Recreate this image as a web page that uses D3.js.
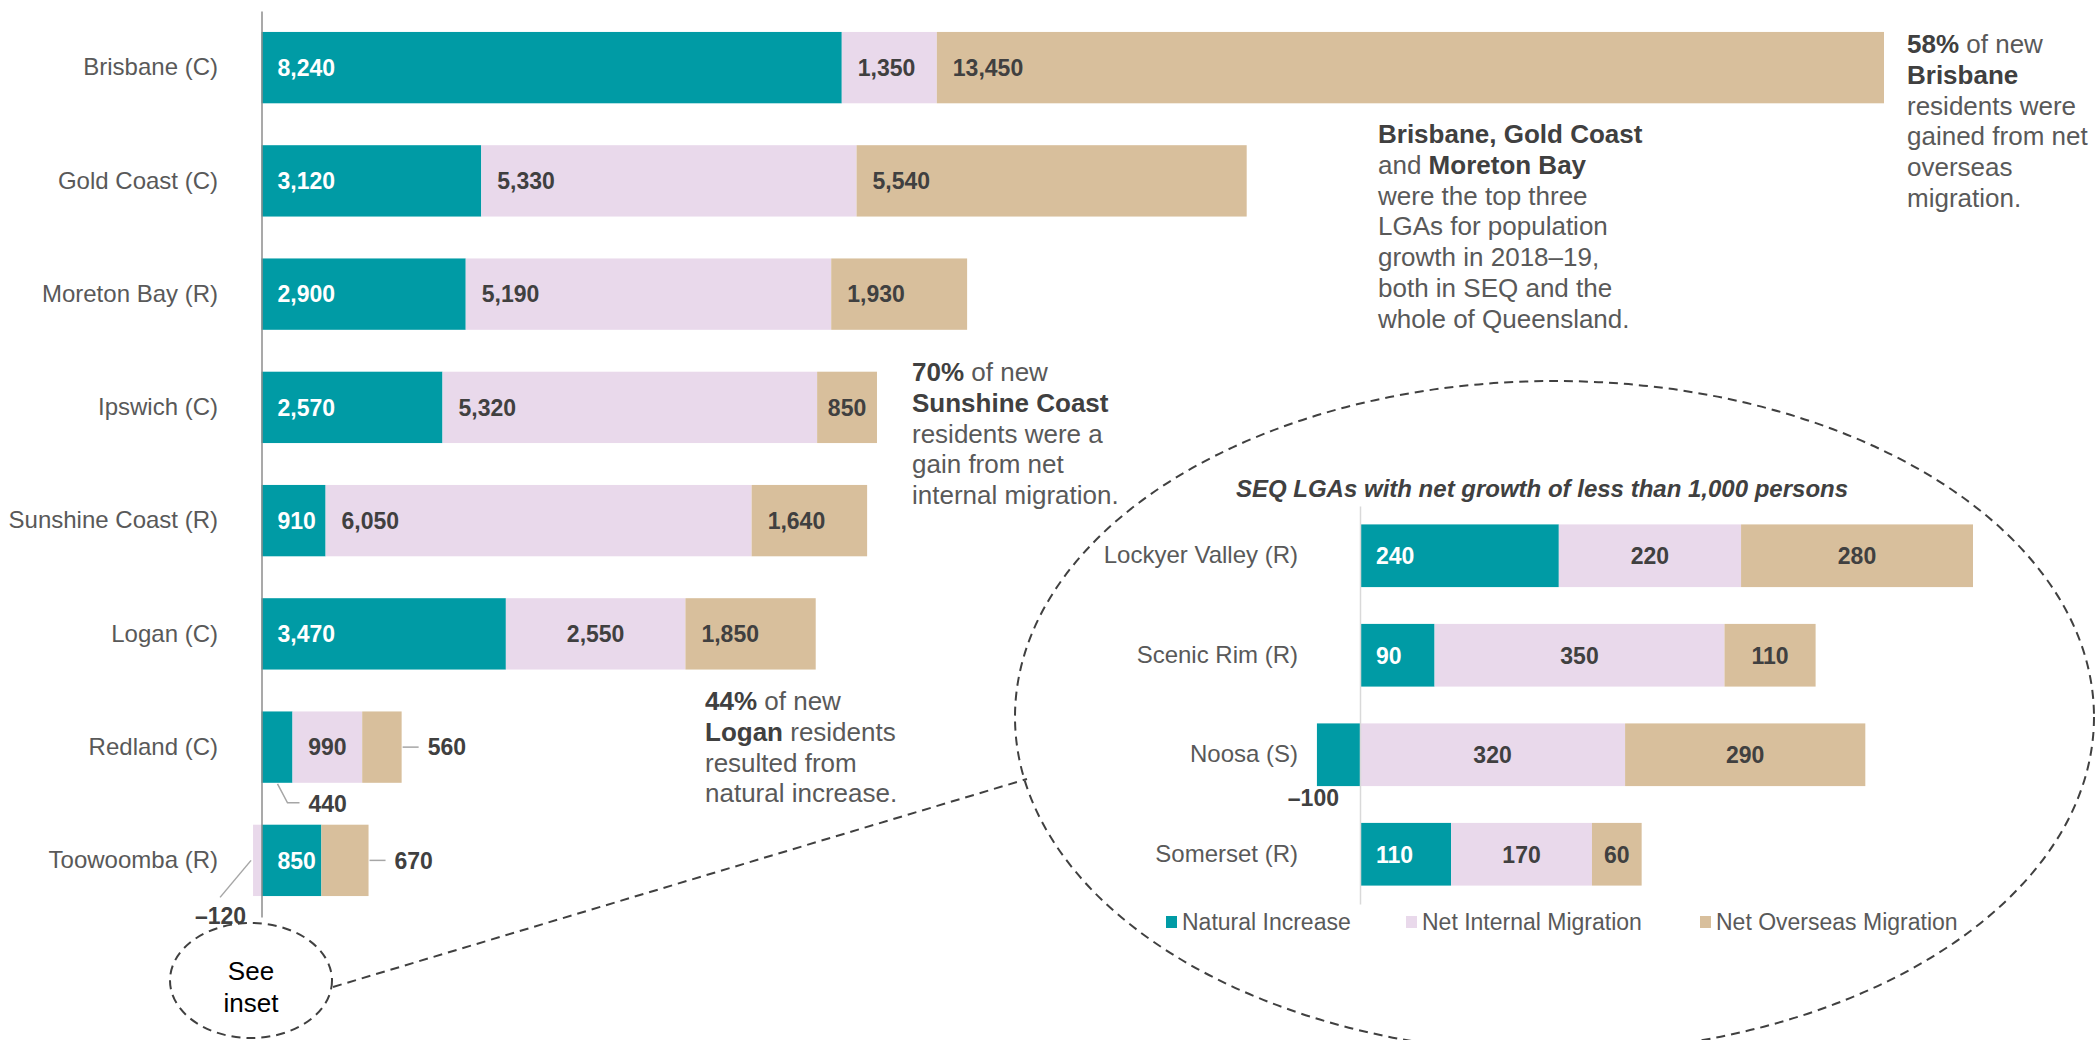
<!DOCTYPE html>
<html>
<head>
<meta charset="utf-8">
<script src="https://cdn.jsdelivr.net/npm/d3@7"></script>
<style>
  body { margin: 0; background: #fff; }
  text { font-family: "Liberation Sans", Arial, sans-serif; }
</style>
</head>
<body>
<svg id="chart"></svg>
<script>
var w = 2098;
var h = 1040;

// main chart data (persons, 2018-19)
var lgaNames = ["Brisbane (C)", "Gold Coast (C)", "Moreton Bay (R)", "Ipswich (C)",
                "Sunshine Coast (R)", "Logan (C)", "Redland (C)", "Toowoomba (R)"];
var naturalIncrease = [8240, 3120, 2900, 2570, 910, 3470, 440, 850];
var netInternal = [1350, 5330, 5190, 5320, 6050, 2550, 990, -120];
var netOverseas = [13450, 5540, 1930, 850, 1640, 1850, 560, 670];

// inset: LGAs with net growth under 1,000
var insetNames = ["Lockyer Valley (R)", "Scenic Rim (R)", "Noosa (S)", "Somerset (R)"];
var insetNatural = [240, 90, -52, 110];
var insetInternal = [220, 350, 320, 170];
var insetOverseas = [280, 110, 290, 60];
var insetNaturalLabels = ["240", "90", "\u2013100", "110"];

var seriesKeys = ["natural", "internal", "overseas"];
var seriesNames = ["Natural Increase", "Net Internal Migration", "Net Overseas Migration"];
var colors = ["#009ba5", "#e9d9eb", "#d8bf9c"];

var fmt = function(v){ return d3.format(",")(v).replace("\u2212", "\u2013"); };

var svg = d3.select("#chart").attr("width", w).attr("height", h);

function rows(names, a, b, c){
  return names.map(function(n, i){
    return {name: n, natural: a[i], internal: b[i], overseas: c[i]};
  });
}

var mainData = rows(lgaNames, naturalIncrease, netInternal, netOverseas);
var insetData = rows(insetNames, insetNatural, insetInternal, insetOverseas);

var stack = d3.stack().keys(seriesKeys).offset(d3.stackOffsetDiverging);
var mainStack = stack(mainData);
var insetStack = stack(insetData);

// ---------- main chart ----------
var xMain = d3.scaleLinear()
  .domain([0, d3.max(mainData, function(d){ return d.natural + d.internal + d.overseas; })])
  .range([261.5, 1884]);

var yMain = d3.scaleBand()
  .domain(lgaNames)
  .range([11, 917])
  .paddingInner(0.37)
  .paddingOuter(0.185);

var gMain = svg.append("g");

gMain.selectAll("g.series")
  .data(mainStack)
  .enter()
  .append("g")
  .attr("class", "series")
  .attr("fill", function(d, i){ return colors[i]; })
  .selectAll("rect")
  .data(function(d){ return d; })
  .enter()
  .append("rect")
  .attr("x", function(d){ return xMain(d[0]); })
  .attr("width", function(d){ return xMain(d[1]) - xMain(d[0]); })
  .attr("y", function(d){ return yMain(d.data.name); })
  .attr("height", yMain.bandwidth());

var centred = ["Logan (C)|1", "Ipswich (C)|2", "Redland (C)|1"];

mainStack.forEach(function(s, si){
  s.forEach(function(d){
    var x0 = xMain(d[0]), x1 = xMain(d[1]);
    var top = yMain(d.data.name);
    var mid = top + yMain.bandwidth() / 2;
    var bottom = top + yMain.bandwidth();
    var v = d.data[seriesKeys[si]];
    var label = fmt(v);
    var fill = si === 0 ? "#ffffff" : "#404040";
    var lineCol = "#a6a6a6";

    if (x1 - x0 < 50) {
      if (v < 0) {
        gMain.append("line")
          .attr("x1", x0 - 2).attr("y1", mid)
          .attr("x2", x0 - 33).attr("y2", mid + 37)
          .attr("stroke", lineCol).attr("stroke-width", 1.5);
        gMain.append("text")
          .attr("x", x0 - 7).attr("y", mid + 64)
          .attr("text-anchor", "end")
          .attr("font-size", "23px").attr("font-weight", "bold")
          .attr("fill", "#404040")
          .text(label);
      } else if (si === 0) {
        var sx = x0 + 16, sy = bottom + 1;
        gMain.append("path")
          .attr("d", "M" + sx + "," + sy + "L" + (sx + 10) + "," + (bottom + 20) + "L" + (sx + 22) + "," + (bottom + 20))
          .attr("fill", "none").attr("stroke", lineCol).attr("stroke-width", 1.5);
        gMain.append("text")
          .attr("x", sx + 31).attr("y", bottom + 29)
          .attr("font-size", "23px").attr("font-weight", "bold")
          .attr("fill", "#404040")
          .text(label);
      } else {
        gMain.append("line")
          .attr("x1", x1 + 1).attr("y1", mid)
          .attr("x2", x1 + 17).attr("y2", mid)
          .attr("stroke", lineCol).attr("stroke-width", 1.5);
        gMain.append("text")
          .attr("x", x1 + 26).attr("y", mid)
          .attr("dy", "0.36em")
          .attr("font-size", "23px").attr("font-weight", "bold")
          .attr("fill", "#404040")
          .text(label);
      }
    } else {
      var isCentred = centred.indexOf(d.data.name + "|" + si) >= 0;
      gMain.append("text")
        .attr("x", isCentred ? (x0 + x1) / 2 : x0 + 16)
        .attr("y", mid)
        .attr("dy", "0.36em")
        .attr("text-anchor", isCentred ? "middle" : "start")
        .attr("font-size", "23px").attr("font-weight", "bold")
        .attr("fill", fill)
        .text(label);
    }
  });
});

var yAxisMain = d3.axisLeft(yMain).tickSize(0).tickSizeOuter(0).tickPadding(43.5);
var axMain = svg.append("g")
  .attr("transform", "translate(" + xMain(0) + ",0)")
  .call(yAxisMain);
axMain.select(".domain").attr("stroke", "#8c8c8c").attr("stroke-width", 1.5);
axMain.selectAll("text")
  .attr("font-size", "24px")
  .attr("font-family", "'Liberation Sans', Arial, sans-serif")
  .attr("fill", "#595959");

// ---------- inset chart ----------
var xIn = d3.scaleLinear()
  .domain([0, d3.max(insetData, function(d){ return d.natural + d.internal + d.overseas; })])
  .range([1360, 1973]);

var yIn = d3.scaleBand()
  .domain(insetNames)
  .range([506, 904])
  .paddingInner(0.37)
  .paddingOuter(0.185);

var gIn = svg.append("g");

gIn.selectAll("g.series")
  .data(insetStack)
  .enter()
  .append("g")
  .attr("class", "series")
  .attr("fill", function(d, i){ return colors[i]; })
  .selectAll("rect")
  .data(function(d){ return d; })
  .enter()
  .append("rect")
  .attr("x", function(d){ return xIn(d[0]); })
  .attr("width", function(d){ return xIn(d[1]) - xIn(d[0]); })
  .attr("y", function(d){ return yIn(d.data.name); })
  .attr("height", yIn.bandwidth());

insetStack.forEach(function(s, si){
  s.forEach(function(d, i){
    var x0 = xIn(d[0]), x1 = xIn(d[1]);
    var mid = yIn(d.data.name) + yIn.bandwidth() / 2;
    var bottom = yIn(d.data.name) + yIn.bandwidth();
    var v = d.data[seriesKeys[si]];
    var label = si === 0 ? insetNaturalLabels[i] : fmt(v);
    if (v < 0) {
      gIn.append("text")
        .attr("x", xIn(0) - 21).attr("y", bottom + 20)
        .attr("text-anchor", "end")
        .attr("font-size", "23px").attr("font-weight", "bold")
        .attr("fill", "#404040")
        .text(label);
    } else if (si === 0) {
      gIn.append("text")
        .attr("x", x0 + 16).attr("y", mid).attr("dy", "0.36em")
        .attr("font-size", "23px").attr("font-weight", "bold")
        .attr("fill", "#ffffff")
        .text(label);
    } else {
      gIn.append("text")
        .attr("x", (x0 + x1) / 2).attr("y", mid).attr("dy", "0.36em")
        .attr("text-anchor", "middle")
        .attr("font-size", "23px").attr("font-weight", "bold")
        .attr("fill", "#404040")
        .text(label);
    }
  });
});

var yAxisIn = d3.axisLeft(yIn).tickSize(0).tickSizeOuter(0).tickPadding(62);
var axIn = svg.append("g")
  .attr("transform", "translate(" + xIn(0) + ",0)")
  .call(yAxisIn);
axIn.select(".domain").attr("stroke", "#d9d9d9").attr("stroke-width", 1.5);
axIn.selectAll("text")
  .attr("font-size", "24px")
  .attr("font-family", "'Liberation Sans', Arial, sans-serif")
  .attr("fill", "#595959");

svg.append("text")
  .attr("x", 1542).attr("y", 497)
  .attr("text-anchor", "middle")
  .attr("font-size", "24px").attr("font-weight", "bold").attr("font-style", "italic")
  .attr("fill", "#404040")
  .text("SEQ LGAs with net growth of less than 1,000 persons");

// legend
var legendX = [1166, 1406, 1700];
var legend = svg.append("g");
seriesNames.forEach(function(n, i){
  legend.append("rect")
    .attr("x", legendX[i]).attr("y", 916)
    .attr("width", 11).attr("height", 12)
    .attr("fill", colors[i]);
  legend.append("text")
    .attr("x", legendX[i] + 16).attr("y", 922).attr("dy", "0.36em")
    .attr("font-size", "23px")
    .attr("fill", "#595959")
    .text(n);
});

// ---------- callouts ----------
var dash = "9,6";
svg.append("ellipse")
  .attr("cx", 1554.5).attr("cy", 717).attr("rx", 539.5).attr("ry", 336)
  .attr("fill", "none").attr("stroke", "#404040").attr("stroke-width", 2)
  .attr("stroke-dasharray", dash);
svg.append("ellipse")
  .attr("cx", 251).attr("cy", 980.5).attr("rx", 81).attr("ry", 57.5)
  .attr("fill", "none").attr("stroke", "#404040").attr("stroke-width", 2)
  .attr("stroke-dasharray", dash);
svg.append("line")
  .attr("x1", 333).attr("y1", 987).attr("x2", 1027).attr("y2", 779)
  .attr("stroke", "#404040").attr("stroke-width", 2)
  .attr("stroke-dasharray", dash);
svg.append("text")
  .attr("text-anchor", "middle").attr("font-size", "26px").attr("fill", "#000")
  .selectAll("tspan")
  .data(["See", "inset"])
  .enter()
  .append("tspan")
  .attr("x", 251)
  .attr("y", function(d, i){ return 980 + i * 31.5; })
  .text(function(d){ return d; });

// annotation blocks: each line is a list of [text, bold]
var noteBrisbane = [
  [["58%", 1], [" of new", 0]],
  [["Brisbane", 1]],
  [["residents were", 0]],
  [["gained from net", 0]],
  [["overseas", 0]],
  [["migration.", 0]]
];
var noteTop3 = [
  [["Brisbane, Gold Coast", 1]],
  [["and ", 0], ["Moreton Bay", 1]],
  [["were the top three", 0]],
  [["LGAs for population", 0]],
  [["growth in 2018\u201319,", 0]],
  [["both in SEQ and the", 0]],
  [["whole of Queensland.", 0]]
];
var noteSunshine = [
  [["70%", 1], [" of new", 0]],
  [["Sunshine Coast", 1]],
  [["residents were a", 0]],
  [["gain from net", 0]],
  [["internal migration.", 0]]
];
var noteLogan = [
  [["44%", 1], [" of new", 0]],
  [["Logan", 1], [" residents", 0]],
  [["resulted from", 0]],
  [["natural increase.", 0]]
];

function note(lines, x, y){
  var t = svg.append("text").attr("font-size", "26px").attr("fill", "#595959");
  lines.forEach(function(line, li){
    line.forEach(function(part, pi){
      var ts = t.append("tspan").text(part[0]);
      if (pi === 0) ts.attr("x", x).attr("y", y + li * 30.8);
      if (part[1]) ts.attr("font-weight", "bold").attr("fill", "#404040");
    });
  });
}

note(noteBrisbane, 1907, 53);
note(noteTop3, 1378, 143);
note(noteSunshine, 912, 381);
note(noteLogan, 705, 710);
</script>
</body>
</html>
